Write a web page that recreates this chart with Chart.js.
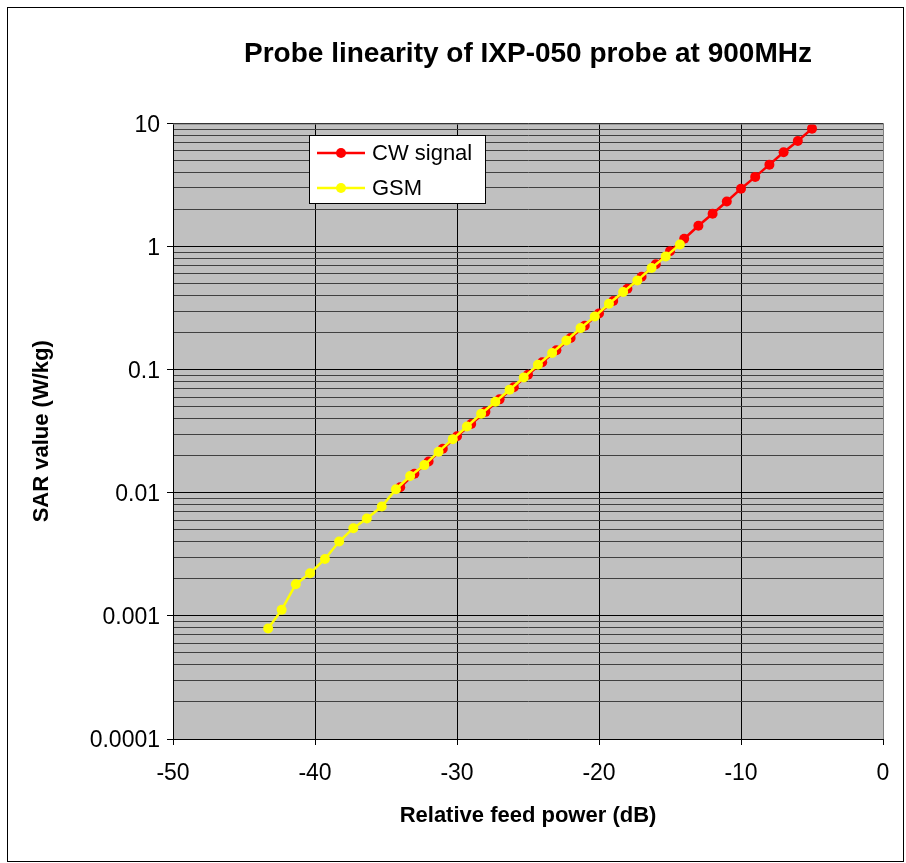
<!DOCTYPE html>
<html>
<head>
<meta charset="utf-8">
<script src="https://cdn.jsdelivr.net/npm/chart.js@4"></script>
<style>
  html, body { margin: 0; padding: 0; background: #fff; }
  #wrap { width: 906px; height: 863px; position: relative; }
</style>
</head>
<body>
<div id="wrap"><canvas id="myChart" width="906" height="863"></canvas></div>
<script>
const cwPower = [-34, -33, -32, -31, -30, -29, -28, -27, -26, -25, -24, -23, -22, -21, -20,
                 -19, -18, -17, -16, -15, -14, -13, -12, -11, -10, -9, -8, -7, -6, -5];
const cwSar = [0.0111, 0.0143, 0.0180, 0.0228, 0.0288, 0.0362, 0.0455, 0.0575, 0.0722, 0.0910,
               0.115, 0.144, 0.181, 0.228, 0.287, 0.362, 0.455, 0.57, 0.72, 0.92,
               1.16, 1.48, 1.85, 2.33, 2.96, 3.69, 4.64, 5.85, 7.23, 9.1];

const gsmPower = [-43.3, -42.35, -41.35, -40.35, -39.3, -38.3, -37.3, -36.35, -35.3, -34.3,
                  -33.3, -32.3, -31.3, -30.3, -29.3, -28.3, -27.3, -26.3, -25.3, -24.3,
                  -23.3, -22.3, -21.3, -20.3, -19.3, -18.3, -17.3, -16.3, -15.3, -14.3];
const gsmSar = [0.00079, 0.00112, 0.00181, 0.00222, 0.0029, 0.00402, 0.00516, 0.00618, 0.00774, 0.0107,
                0.0137, 0.0168, 0.0216, 0.0273, 0.0346, 0.0439, 0.0549, 0.0688, 0.0866, 0.110,
                0.137, 0.173, 0.218, 0.271, 0.344, 0.429, 0.532, 0.671, 0.834, 1.04];

const decadeTicks = [0.0001, 0.001, 0.01, 0.1, 1, 10];
const decadeLabels = ['0.0001', '0.001', '0.01', '0.1', '1', '10'];
const xTicks = [-50, -40, -30, -20, -10, 0];

const FONT = '"Liberation Sans", Arial, sans-serif';

// minor ticks 2..9 in every decade
function buildLogTicks() {
    let ticks = [];
    decadeTicks.forEach((d, i) => {
        ticks.push({ value: d, major: true });
        if (i < decadeTicks.length - 1) {
            for (let m = 2; m <= 9; m++) ticks.push({ value: d * m, major: false });
        }
    });
    return ticks;
}

function isDecade(v) {
    return decadeTicks.some(d => Math.abs(v - d) / d < 1e-6);
}

const frame = {
    id: 'frame',
    beforeDraw(chart) {
        const ctx = chart.ctx;
        const a = chart.chartArea;
        ctx.save();
        ctx.fillStyle = '#fff';
        ctx.fillRect(0, 0, chart.width, chart.height);
        ctx.strokeStyle = '#000';
        ctx.lineWidth = 1;
        ctx.strokeRect(7.5, 7.5, 896, 854);
        ctx.fillStyle = '#C0C0C0';
        ctx.fillRect(a.left, a.top, a.right - a.left, a.bottom - a.top);
        ctx.restore();
    },
    afterDatasetsDraw(chart) {
        const ctx = chart.ctx;
        const a = chart.chartArea;
        ctx.save();
        ctx.strokeStyle = '#808080';
        ctx.lineWidth = 1;
        ctx.beginPath();
        ctx.moveTo(a.left, a.top + 0.5);
        ctx.lineTo(a.right + 0.5, a.top + 0.5);
        ctx.lineTo(a.right + 0.5, a.bottom);
        ctx.stroke();

        // legend box
        const bx = 309.5, by = 135.5, bw = 176, bh = 68;
        ctx.fillStyle = '#fff';
        ctx.fillRect(bx, by, bw, bh);
        ctx.strokeStyle = '#000';
        ctx.strokeRect(bx, by, bw, bh);
        ctx.font = '22px ' + FONT;
        ctx.textBaseline = 'middle';
        chart.data.datasets.forEach((ds, i) => {
            const y = 153 + i * 35;
            ctx.strokeStyle = ds.borderColor;
            ctx.lineWidth = 2.5;
            ctx.beginPath();
            ctx.moveTo(317, y);
            ctx.lineTo(365, y);
            ctx.stroke();
            ctx.fillStyle = ds.pointBackgroundColor;
            ctx.beginPath();
            ctx.arc(341, y, 5, 0, Math.PI * 2);
            ctx.fill();
            ctx.fillStyle = '#000';
            ctx.fillText(ds.label, 372, y + 1);
        });
        ctx.restore();
    }
};

const ctx = document.getElementById('myChart').getContext('2d');
new Chart(ctx, {
    type: 'line',
    data: {
        datasets: [
            {
                label: 'CW signal',
                data: cwPower.map((x, i) => ({ x: x, y: cwSar[i] })),
                borderColor: '#FF0000',
                backgroundColor: '#FF0000',
                pointBackgroundColor: '#FF0000',
                pointBorderColor: '#FF0000',
                pointRadius: 5,
                pointBorderWidth: 0,
                borderWidth: 2.5,
                tension: 0,
                order: 1
            },
            {
                label: 'GSM',
                data: gsmPower.map((x, i) => ({ x: x, y: gsmSar[i] })),
                borderColor: '#FFFF00',
                backgroundColor: '#FFFF00',
                pointBackgroundColor: '#FFFF00',
                pointBorderColor: '#FFFF00',
                pointRadius: 5,
                pointBorderWidth: 0,
                borderWidth: 2.5,
                tension: 0,
                order: 0
            }
        ]
    },
    options: {
        responsive: false,
        animation: false,
        layout: { padding: { left: 0, right: 23, top: 0, bottom: 24 } },
        plugins: {
            legend: { display: false },
            tooltip: { enabled: false },
            title: {
                display: true,
                fullSize: false,
                text: 'Probe linearity of IXP-050 probe at 900MHz',
                color: '#000',
                font: { family: FONT, size: 28, weight: 'bold' },
                padding: { top: 37, bottom: 53 }
            }
        },
        scales: {
            x: {
                type: 'linear',
                min: -50,
                max: 0,
                afterFit: (scale) => { scale.height = 100; },
                afterBuildTicks: (scale) => { scale.ticks = xTicks.map(v => ({ value: v })); },
                ticks: {
                    color: '#000',
                    padding: 15,
                    maxRotation: 0,
                    font: { family: FONT, size: 23 }
                },
                grid: {
                    color: '#000',
                    lineWidth: 1,
                    tickLength: 6,
                    tickColor: '#000'
                },
                border: { color: '#000', width: 1 },
                title: {
                    display: true,
                    text: 'Relative feed power (dB)',
                    color: '#000',
                    font: { family: FONT, size: 22, weight: 'bold' },
                    padding: { top: 10, bottom: 10 }
                }
            },
            y: {
                type: 'logarithmic',
                min: 0.0001,
                max: 10,
                afterFit: (scale) => { scale.width = 173; },
                afterBuildTicks: (scale) => { scale.ticks = buildLogTicks(); },
                ticks: {
                    color: '#000',
                    padding: 7,
                    labelOffset: 2,
                    autoSkip: false,
                    font: { family: FONT, size: 23 },
                    callback: function (value) {
                        const i = decadeTicks.findIndex(d => Math.abs(value - d) / d < 1e-6);
                        return i >= 0 ? decadeLabels[i] : '';
                    }
                },
                grid: {
                    color: (c) => (c.tick && isDecade(c.tick.value)) ? '#000' : '#404040',
                    lineWidth: 1,
                    tickLength: 6,
                    tickColor: (c) => (c.tick && isDecade(c.tick.value)) ? '#000' : 'rgba(0,0,0,0)'
                },
                border: { color: '#000', width: 1 },
                title: {
                    display: true,
                    text: 'SAR value (W/kg)',
                    color: '#000',
                    font: { family: FONT, size: 22, weight: 'bold' },
                    padding: { top: 29, bottom: 29 }
                }
            }
        }
    },
    plugins: [frame]
});
</script>
</body>
</html>
